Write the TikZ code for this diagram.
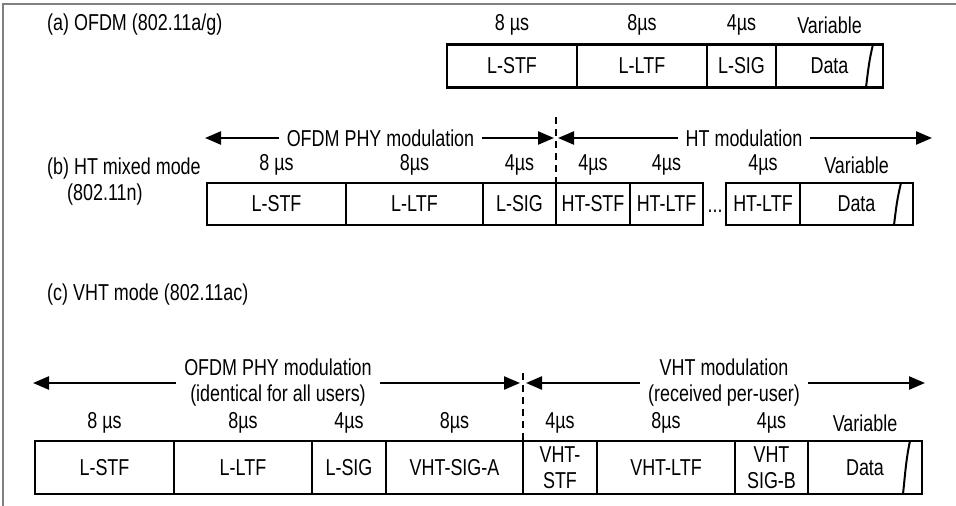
\documentclass[tikz,border=0pt]{standalone}
\usepackage{fontspec}
\setmainfont[FakeStretch=0.78]{Liberation Sans}
\usepackage{tikz}
\usetikzlibrary{calc,positioning,arrows.meta}

\tikzset{
  field/.style={draw, rectangle, line width=2.4pt, outer sep=0pt, inner sep=0pt,
    minimum height=#1, align=center, font=\fontsize{23}{26}\selectfont},
  dur/.style={inner sep=0pt, font=\fontsize{23}{26}\selectfont},
  tag/.style={inner sep=0pt, anchor=west, align=left, font=\fontsize{23}{26}\selectfont},
  span/.style={line width=2.4pt, {Triangle[length=16pt,width=13pt]}-{Triangle[length=16pt,width=13pt]}},
  spanlabel/.style={midway, fill=white, inner xsep=8pt, inner ysep=0pt, align=center,
    font=\fontsize{23}{26}\selectfont},
  split/.style={line width=2.4pt, dash pattern=on 7pt off 5pt},
  wave/.style={line width=2pt}
}

\begin{document}
\begin{tikzpicture}[x=1pt, y=-1pt]

\useasboundingbox (0,0) rectangle (956,506);

% frame
\draw[gray, line width=1.4pt] (956,4) -- (3,4) -- (3,506);

% Labels of the three modes
\node[tag] (taga) at (47,25) {(a) OFDM (802.11a/g)};
\node[tag] (tagb) at (47,182) {(b) HT mixed mode\\\hspace*{20pt}(802.11n)};
\node[tag] (tagc) at (47,295) {(c) VHT mode (802.11ac)};

% (a) OFDM
\node[field=43, minimum width=130] (stfa) at (512,66) {L-STF};
\node[field=43, minimum width=130, right=0pt of stfa] (ltfa) {L-LTF};
\node[field=43, minimum width=69, right=0pt of ltfa] (siga) {L-SIG};
\node[field=43, minimum width=107, right=0pt of siga] (dataa) {Data};
\draw[wave] ($(dataa.north east)+(-10,0)$) .. controls +(-4,16) and +(2,-16) .. ($(dataa.south east)+(-17,0)$);

\node[dur] at (stfa |- 0,25) {8 µs};
\node[dur] at (ltfa |- 0,25) {8µs};
\node[dur] at (siga |- 0,25) {4µs};
\node[dur] at (dataa |- 0,25) {Variable};

% (b) HT mixed mode
\node[field=42, minimum width=139] (stfb) at (276.5,204) {L-STF};
\node[field=42, minimum width=137, right=0pt of stfb] (ltfb) {L-LTF};
\node[field=42, minimum width=73, right=0pt of ltfb] (sigb) {L-SIG};
\node[field=42, minimum width=74, right=0pt of sigb] (htstfb) {HT-STF};
\node[field=42, minimum width=73, right=0pt of htstfb] (htltfb) {HT-LTF};
\node[dur] (dotsb) at (715,211) {...};
\node[field=42, minimum width=74, right=23pt of htltfb] (htltfc) {HT-LTF};
\node[field=42, minimum width=113, right=0pt of htltfc] (datab) {Data};
\draw[wave] ($(datab.north east)+(-12,0)$) .. controls +(-4,16) and +(2,-16) .. ($(datab.south east)+(-19,0)$);

\node[dur] at (stfb |- 0,165) {8 µs};
\node[dur] at (ltfb |- 0,165) {8µs};
\node[dur] at (sigb |- 0,165) {4µs};
\node[dur] at (htstfb |- 0,165) {4µs};
\node[dur] at (htltfb |- 0,165) {4µs};
\node[dur] at (htltfc |- 0,165) {4µs};
\node[dur] at (datab |- 0,165) {Variable};

\coordinate (ofdmbl) at (205,138);
\coordinate (splitb) at (556,138);
\coordinate (htbr) at (932,138);
\coordinate (splitbtop) at (556,117);
\draw[split] (splitbtop) -- (sigb.north east);
\draw[span, shorten >=2pt] (ofdmbl) -- (splitb) node[spanlabel] {OFDM PHY modulation};
\draw[span, shorten <=2pt] (splitb) -- (htbr) node[spanlabel] {HT modulation};

% (c) VHT mode
\node[field=53, minimum width=139] (stfc) at (104.5,467.5) {L-STF};
\node[field=53, minimum width=138, right=0pt of stfc] (ltfc) {L-LTF};
\node[field=53, minimum width=74, right=0pt of ltfc] (sigc) {L-SIG};
\node[field=53, minimum width=137, right=0pt of sigc] (sigac) {VHT-SIG-A};
\node[field=53, minimum width=74, right=0pt of sigac] (vstfc) {VHT-\\STF};
\node[field=53, minimum width=138, right=0pt of vstfc] (vltfc) {VHT-LTF};
\node[field=53, minimum width=73, right=0pt of vltfc] (sigbc) {VHT\\SIG-B};
\node[field=53, minimum width=114, right=0pt of sigbc] (datac) {Data};
\draw[wave] ($(datac.north east)+(-12,0)$) .. controls +(-4,18) and +(2,-18) .. ($(datac.south east)+(-19,0)$);

\node[dur] at (stfc |- 0,423) {8 µs};
\node[dur] at (ltfc |- 0,423) {8µs};
\node[dur] at (sigc |- 0,423) {4µs};
\node[dur] at (sigac |- 0,423) {8µs};
\node[dur] at (vstfc |- 0,423) {4µs};
\node[dur] at (vltfc |- 0,423) {8µs};
\node[dur] at (sigbc |- 0,423) {4µs};
\node[dur] at (datac |- 0,423) {Variable};

\coordinate (ofdmcl) at (33,383);
\coordinate (splitc) at (523,383);
\coordinate (vhtcr) at (925,383);
\coordinate (splitctop) at (523,373);
\draw[split] (splitctop) -- (sigac.north east);
\draw[span, shorten >=3pt] (ofdmcl) -- (splitc) node[spanlabel] {OFDM PHY modulation\\(identical for all users)};
\draw[span, shorten <=3pt] (splitc) -- (vhtcr) node[spanlabel] {VHT modulation\\(received per-user)};

\end{tikzpicture}
\end{document}
